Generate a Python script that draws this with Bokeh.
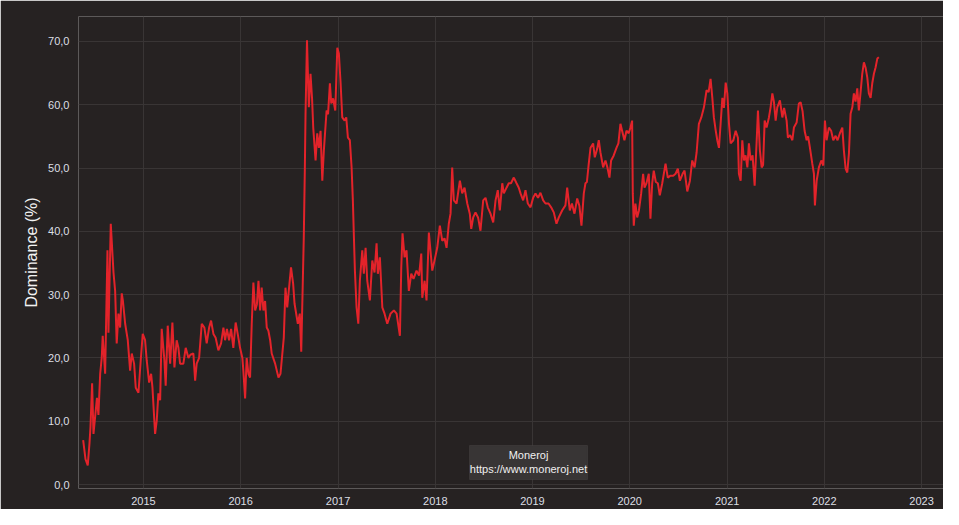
from datetime import datetime
from bokeh.plotting import figure
from bokeh.models import Range1d, FixedTicker, DatetimeTickFormatter, BoxAnnotation, Label
from bokeh.embed import file_html
from bokeh.resources import INLINE

# ---- data (decimal year, Monero dominance %) ----
t14 = [2014.380, 2014.404, 2014.427, 2014.445, 2014.455, 2014.472, 2014.486, 2014.522, 2014.537, 2014.555, 2014.571, 2014.581, 2014.606, 2014.630, 2014.640, 2014.664, 2014.692, 2014.709, 2014.725, 2014.743, 2014.760, 2014.777, 2014.789, 2014.812, 2014.839, 2014.863, 2014.880, 2014.904, 2014.921, 2014.949, 2014.972, 2014.993]
v14 = [7.0, 4.0, 3.0, 6.5, 9.0, 16.0, 8.0, 13.7, 11.0, 17.5, 20.0, 23.5, 17.5, 37.0, 24.0, 41.2, 33.5, 30.6, 22.3, 27.0, 24.8, 30.2, 29.0, 25.4, 22.8, 18.0, 20.7, 19.1, 15.3, 14.5, 19.6, 23.8]

t15 = [2015.017, 2015.034, 2015.059, 2015.079, 2015.093, 2015.120, 2015.137, 2015.154, 2015.172, 2015.188, 2015.216, 2015.229, 2015.250, 2015.275, 2015.298, 2015.319, 2015.342, 2015.360, 2015.377, 2015.411, 2015.435, 2015.463, 2015.483, 2015.514, 2015.532, 2015.548, 2015.573, 2015.600, 2015.627, 2015.651, 2015.676, 2015.696, 2015.720, 2015.743, 2015.771, 2015.799, 2015.823, 2015.840, 2015.859, 2015.881, 2015.902, 2015.925, 2015.949, 2015.970, 2015.994]
v15 = [22.8, 19.6, 16.1, 17.5, 15.3, 8.0, 10.1, 14.4, 13.3, 24.6, 19.6, 15.6, 25.1, 19.1, 25.6, 18.5, 22.8, 21.6, 19.1, 19.1, 21.6, 20.0, 20.5, 20.7, 16.4, 19.1, 20.0, 25.4, 24.8, 22.3, 24.8, 25.9, 23.8, 23.2, 21.2, 22.3, 24.8, 22.8, 24.6, 22.8, 24.6, 21.6, 25.6, 23.8, 21.6]

t16 = [2016.018, 2016.028, 2016.046, 2016.062, 2016.080, 2016.097, 2016.114, 2016.131, 2016.149, 2016.167, 2016.183, 2016.200, 2016.216, 2016.234, 2016.251, 2016.268, 2016.285, 2016.303, 2016.319, 2016.354, 2016.388, 2016.409, 2016.443, 2016.460, 2016.478, 2016.517, 2016.539, 2016.553, 2016.587, 2016.607, 2016.622, 2016.635, 2016.648, 2016.659, 2016.666, 2016.681, 2016.700, 2016.717, 2016.733, 2016.745, 2016.769, 2016.786, 2016.803, 2016.820, 2016.838, 2016.854, 2016.882, 2016.897, 2016.916, 2016.930, 2016.949, 2016.971, 2016.992]
v16 = [20.0, 18.0, 13.6, 20.0, 17.5, 16.9, 25.4, 31.9, 27.5, 28.5, 32.2, 27.5, 31.1, 27.5, 29.0, 24.8, 24.3, 22.8, 20.7, 19.1, 16.9, 17.5, 23.2, 31.1, 28.0, 34.3, 31.7, 28.6, 25.4, 27.0, 21.0, 30.0, 39.0, 50.0, 58.6, 70.2, 59.6, 64.9, 61.0, 56.4, 51.2, 55.5, 53.2, 55.9, 48.0, 52.8, 59.1, 58.5, 63.4, 60.2, 61.0, 59.1, 69.0]

t17 = [2017.008, 2017.026, 2017.043, 2017.067, 2017.084, 2017.101, 2017.121, 2017.139, 2017.152, 2017.163, 2017.173, 2017.190, 2017.208, 2017.224, 2017.249, 2017.265, 2017.283, 2017.300, 2017.327, 2017.352, 2017.375, 2017.396, 2017.409, 2017.430, 2017.455, 2017.478, 2017.506, 2017.540, 2017.574, 2017.602, 2017.636, 2017.650, 2017.663, 2017.684, 2017.704, 2017.728, 2017.753, 2017.776, 2017.807, 2017.833, 2017.856, 2017.866, 2017.890, 2017.910, 2017.934, 2017.969, 2017.992]
v17 = [68.1, 63.4, 58.0, 57.5, 58.0, 54.8, 54.4, 50.1, 44.9, 39.0, 33.8, 28.0, 25.4, 32.2, 37.0, 33.3, 37.4, 32.2, 29.1, 35.4, 33.5, 38.1, 33.3, 35.9, 28.0, 27.0, 25.4, 27.0, 27.5, 27.0, 23.5, 34.3, 39.7, 35.9, 37.0, 30.6, 33.3, 32.5, 33.8, 33.0, 36.5, 29.5, 32.2, 29.1, 39.8, 33.8, 35.4]

t18 = [2018.020, 2018.047, 2018.072, 2018.095, 2018.116, 2018.139, 2018.157, 2018.174, 2018.191, 2018.219, 2018.253, 2018.277, 2018.301, 2018.329, 2018.355, 2018.370, 2018.390, 2018.414, 2018.440, 2018.465, 2018.493, 2018.517, 2018.540, 2018.568, 2018.596, 2018.620, 2018.643, 2018.664, 2018.689, 2018.705, 2018.733, 2018.756, 2018.779, 2018.808, 2018.836, 2018.859, 2018.877, 2018.904, 2018.928, 2018.952, 2018.980]
v18 = [37.4, 40.9, 38.5, 38.9, 37.4, 41.2, 42.8, 50.1, 44.9, 44.4, 48.0, 46.0, 46.9, 44.4, 42.8, 40.4, 42.2, 43.0, 42.2, 40.1, 44.9, 45.3, 43.8, 42.8, 41.4, 44.9, 46.5, 43.3, 47.6, 46.0, 46.9, 47.6, 47.6, 48.5, 47.6, 46.9, 46.0, 44.9, 46.5, 44.4, 43.8]

t19 = [2019.007, 2019.031, 2019.057, 2019.082, 2019.110, 2019.134, 2019.165, 2019.192, 2019.219, 2019.247, 2019.271, 2019.305, 2019.339, 2019.357, 2019.384, 2019.406, 2019.432, 2019.460, 2019.483, 2019.504, 2019.528, 2019.545, 2019.560, 2019.579, 2019.597, 2019.624, 2019.641, 2019.665, 2019.682, 2019.699, 2019.727, 2019.751, 2019.771, 2019.792, 2019.809, 2019.836, 2019.864, 2019.884, 2019.905, 2019.922, 2019.946, 2019.967, 2019.990]
v19 = [45.3, 46.0, 45.3, 46.1, 44.9, 44.4, 44.4, 43.8, 43.0, 41.2, 42.2, 43.3, 44.1, 46.9, 43.3, 44.4, 42.8, 45.2, 44.0, 40.9, 46.0, 47.6, 47.8, 50.7, 53.2, 53.9, 51.7, 53.0, 54.4, 52.5, 50.1, 51.2, 50.1, 48.5, 51.2, 52.0, 53.2, 53.9, 57.0, 55.9, 54.4, 55.9, 55.5]

t20 = [2020.008, 2020.025, 2020.032, 2020.042, 2020.059, 2020.077, 2020.095, 2020.118, 2020.138, 2020.152, 2020.172, 2020.196, 2020.213, 2020.231, 2020.247, 2020.268, 2020.289, 2020.309, 2020.334, 2020.368, 2020.391, 2020.419, 2020.447, 2020.471, 2020.494, 2020.515, 2020.543, 2020.563, 2020.591, 2020.618, 2020.642, 2020.666, 2020.687, 2020.710, 2020.735, 2020.762, 2020.789, 2020.810, 2020.830, 2020.848, 2020.864, 2020.882, 2020.899, 2020.916, 2020.933, 2020.951, 2020.967, 2020.985]
v20 = [56.4, 57.5, 46.0, 40.9, 44.4, 42.2, 43.3, 46.0, 49.1, 46.9, 47.6, 49.1, 42.0, 47.6, 49.6, 47.8, 47.6, 45.7, 47.6, 50.7, 48.5, 48.8, 48.8, 49.1, 49.9, 48.0, 49.1, 49.6, 46.3, 48.0, 51.2, 50.1, 52.5, 57.0, 58.0, 59.6, 62.3, 62.0, 64.1, 61.1, 58.0, 56.0, 54.4, 53.2, 57.0, 61.1, 59.5, 63.5]

t21 = [2021.002, 2021.019, 2021.036, 2021.064, 2021.088, 2021.111, 2021.121, 2021.139, 2021.156, 2021.173, 2021.190, 2021.208, 2021.224, 2021.242, 2021.262, 2021.283, 2021.304, 2021.317, 2021.337, 2021.355, 2021.370, 2021.386, 2021.406, 2021.430, 2021.447, 2021.465, 2021.481, 2021.499, 2021.516, 2021.543, 2021.568, 2021.586, 2021.612, 2021.625, 2021.648, 2021.671, 2021.687, 2021.715, 2021.738, 2021.756, 2021.776, 2021.797, 2021.818, 2021.833, 2021.852, 2021.876, 2021.893, 2021.903, 2021.921, 2021.944, 2021.969, 2021.989]
v21 = [61.8, 57.0, 53.9, 54.4, 55.9, 54.8, 49.1, 48.0, 54.4, 51.2, 52.0, 50.1, 53.9, 51.2, 52.0, 47.2, 54.4, 59.1, 52.8, 50.1, 50.5, 57.5, 56.4, 58.0, 59.6, 61.8, 60.5, 57.5, 59.6, 60.7, 58.0, 59.5, 57.5, 54.8, 55.2, 54.4, 56.4, 57.2, 60.2, 60.4, 59.0, 55.9, 54.4, 55.0, 53.2, 50.7, 49.1, 44.1, 48.0, 50.1, 51.2, 50.4]

t22 = [2022.006, 2022.023, 2022.047, 2022.070, 2022.092, 2022.116, 2022.136, 2022.160, 2022.185, 2022.201, 2022.219, 2022.236, 2022.253, 2022.270, 2022.288, 2022.304, 2022.321, 2022.339, 2022.355, 2022.373, 2022.390, 2022.407, 2022.424, 2022.442, 2022.458, 2022.476, 2022.493, 2022.510, 2022.527, 2022.545, 2022.561]
v22 = [57.5, 54.4, 56.4, 55.9, 54.4, 55.1, 54.4, 55.5, 56.4, 52.8, 49.9, 49.3, 52.3, 58.6, 59.6, 61.8, 60.5, 62.6, 59.1, 62.0, 64.9, 66.7, 65.9, 64.3, 61.8, 61.1, 63.4, 64.9, 65.9, 67.3, 67.5]

tick_years = [2015, 2016, 2017, 2018, 2019, 2020, 2021, 2022, 2023]
y_ticks = [0, 10, 20, 30, 40, 50, 60, 70]
y_labels = ["0,0", "10,0", "20,0", "30,0", "40,0", "50,0", "60,0", "70,0"]
credit_lines = ["Moneroj", "https://www.moneroj.net"]

EPOCH = datetime(1970, 1, 1)


def dec_to_ms(y):
    yr = int(y)
    start = datetime(yr, 1, 1)
    end = datetime(yr + 1, 1, 1)
    dt = start + (end - start) * (y - yr)
    return (dt - EPOCH).total_seconds() * 1000.0


years = t14 + t15 + t16 + t17 + t18 + t19 + t20 + t21 + t22
dom = v14 + v15 + v16 + v17 + v18 + v19 + v20 + v21 + v22
xs = [dec_to_ms(y) for y in years]

BG = "#262222"
GRID = "#393535"
FONT = "Liberation Sans"

p = figure(width=943, height=509, x_axis_type="datetime",
           output_backend="svg", toolbar_location=None,
           x_range=Range1d(dec_to_ms(2014.332), dec_to_ms(2023.226)),
           y_range=Range1d(-0.63, 73.95),
           background_fill_color=BG, border_fill_color=BG,
           min_border_left=78, min_border_right=0,
           min_border_top=16, min_border_bottom=21)
p.outline_line_color = None

p.line(xs, dom, line_color="#e3232a", line_width=2)

# axes
p.xaxis.ticker = FixedTicker(ticks=[dec_to_ms(y) for y in tick_years])
p.xaxis.formatter = DatetimeTickFormatter(years="%Y", months="%Y", days="%Y",
                                          hours="%Y", minutes="%Y")
p.yaxis.ticker = FixedTicker(ticks=y_ticks)
p.yaxis.major_label_overrides = {t: l for t, l in zip(y_ticks, y_labels)}
for ax in (p.xaxis[0], p.yaxis[0]):
    ax.axis_line_color = None
    ax.major_tick_line_color = None
    ax.minor_tick_line_color = None
    ax.major_tick_out = 0
    ax.major_tick_in = 0
    ax.minor_tick_out = 0
    ax.minor_tick_in = 0
    ax.major_label_text_color = "#dcdfe4"
    ax.major_label_text_font = FONT
    ax.major_label_text_font_size = "11px"
p.xaxis.major_label_standoff = 8
p.yaxis.major_label_standoff = 9
p.yaxis.axis_label = "Dominance (%)"
p.yaxis.axis_label_text_font = FONT
p.yaxis.axis_label_text_font_size = "16px"
p.yaxis.axis_label_text_font_style = "normal"
p.yaxis.axis_label_text_color = "#f2f2f2"
p.yaxis.axis_label_standoff = 5

p.xgrid.grid_line_color = GRID
p.ygrid.grid_line_color = GRID

# credit box
p.add_layout(BoxAnnotation(left=dec_to_ms(2018.352), right=dec_to_ms(2019.566),
                           bottom=0.79, top=6.16,
                           fill_color="#383535", fill_alpha=1.0,
                           line_color="#575454", line_width=1))
for txt, yv in zip(credit_lines, [4.6, 2.5]):
    p.add_layout(Label(x=dec_to_ms(2018.959), y=yv, text=txt,
                       text_align="center", text_baseline="middle",
                       text_font=FONT, text_font_size="11px",
                       text_color="#f0f0f0"))

open("out.html", "w").write(file_html(p, INLINE))
